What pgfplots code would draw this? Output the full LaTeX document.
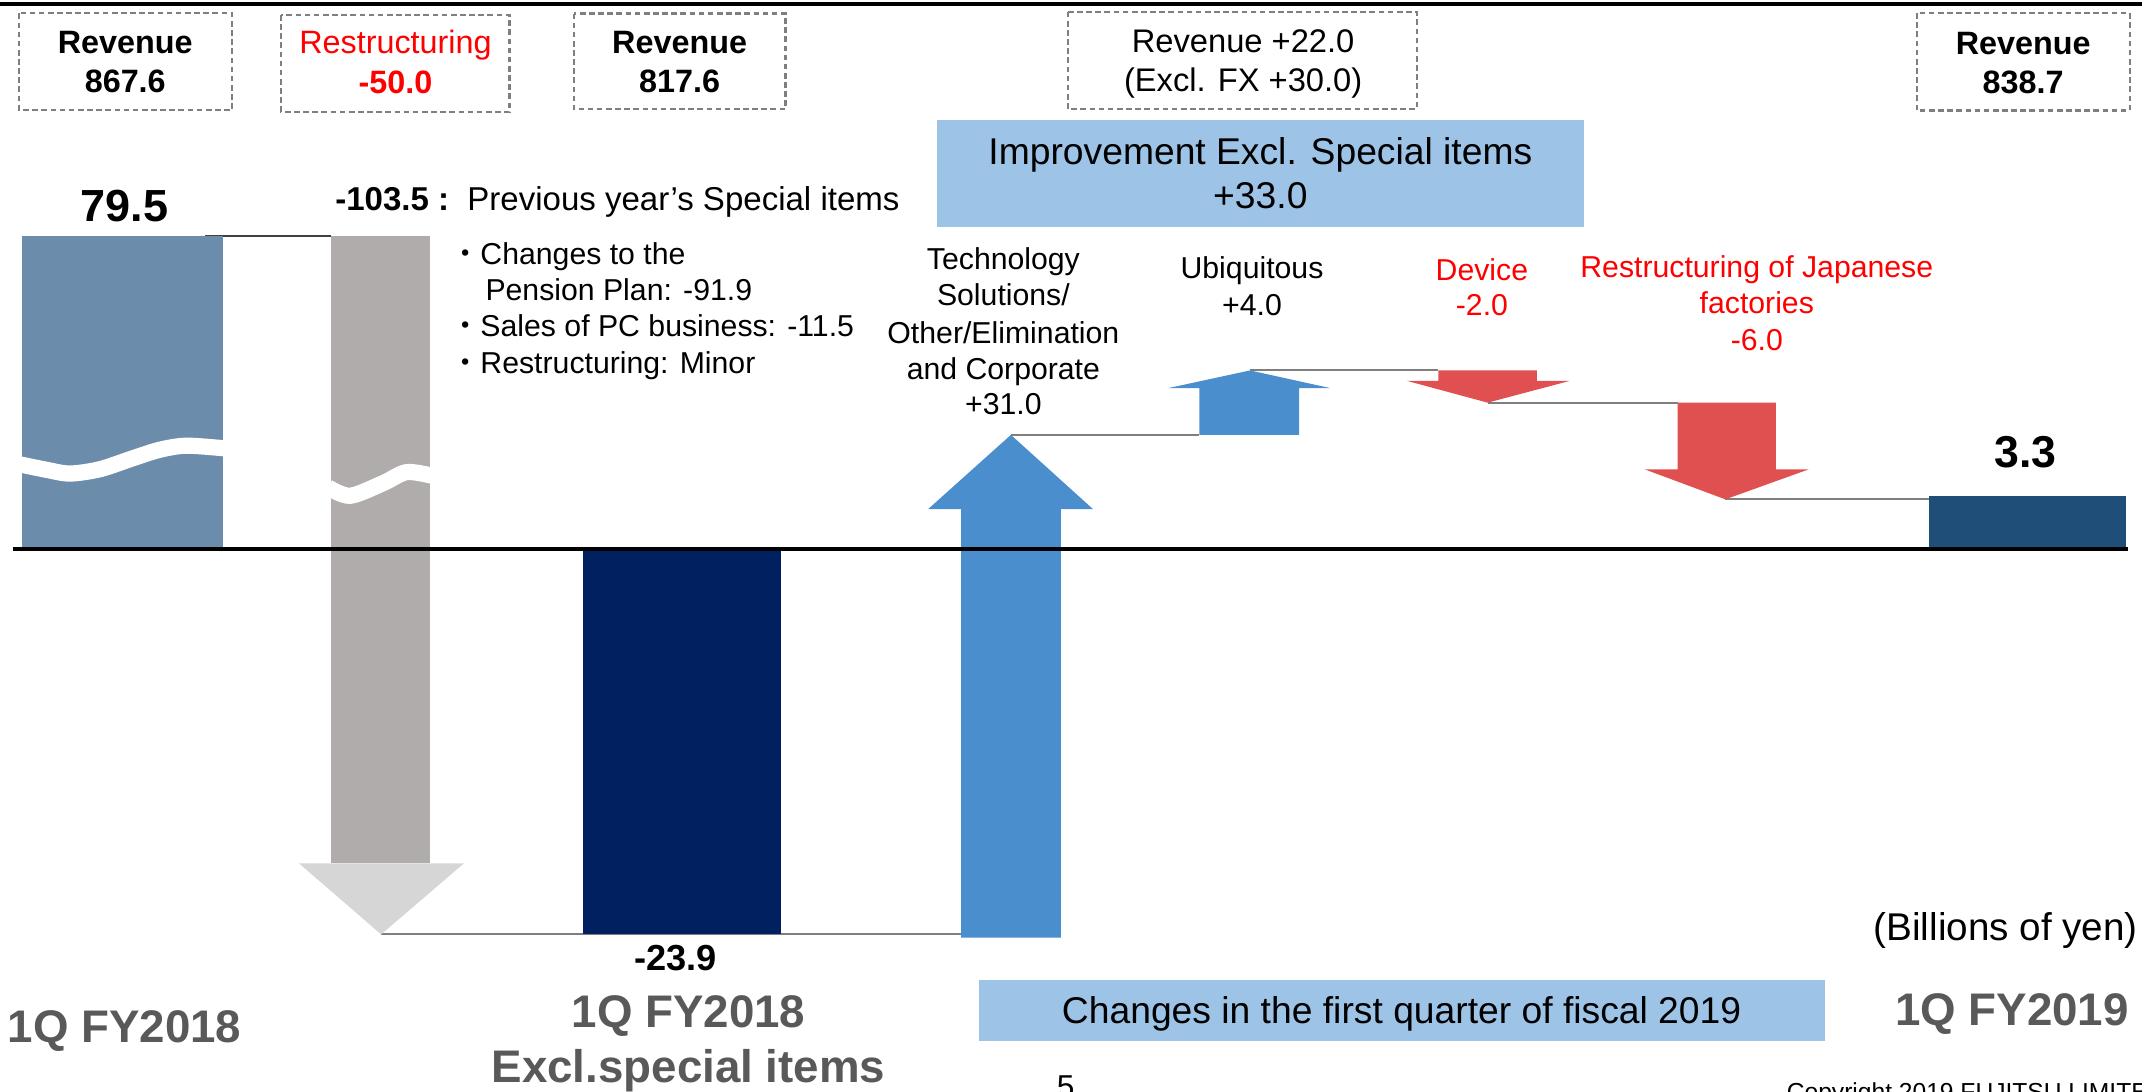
\documentclass[border=0pt]{standalone}
\usepackage{pgfplots}
\pgfplotsset{compat=1.18}
\usepackage{fontspec}
\setmainfont{Liberation Sans}
\newfontfamily\cjk{Noto Sans CJK JP}
\definecolor{barA}{HTML}{6B8CAA}
\definecolor{grayShaft}{HTML}{AFACAB}
\definecolor{grayHead}{HTML}{D6D6D6}
\definecolor{navy}{HTML}{002060}
\definecolor{arrowBlue}{HTML}{4A8ECE}
\definecolor{arrowRed}{HTML}{E15050}
\definecolor{finalBar}{HTML}{1F4E79}
\definecolor{lightBox}{HTML}{9DC3E6}
\definecolor{labelGray}{HTML}{595959}
\definecolor{dashGray}{HTML}{7F7F7F}
\definecolor{conn}{HTML}{7F7F7F}
\definecolor{txtRed}{HTML}{FF0000}
\newcommand{\fs}[1]{\fontsize{#1}{#1}\selectfont}
\begin{document}
\begin{tikzpicture}[every node/.style={inner sep=0pt, outer sep=0pt}]
\path[use as bounding box] (0,0) rectangle (21.42cm,10.91cm);
\begin{axis}[
  at={(0,0)}, anchor=south west,
  width=21.42cm, height=10.91cm, scale only axis,
  xmin=0, xmax=1568, ymin=-33.62, ymax=34.09,
  hide axis, clip=false,
]
% top rule
\draw[black, line width=1.1pt] (0,33.83) -- (1568,33.83);
% dashed boxes
\begin{scope}[dashGray, line width=0.6pt, dash pattern=on 1.6pt off 1pt]
\draw (14,33.26) rectangle (170,27.27);
\draw (206,33.16) rectangle (373,27.14);
\draw (420,33.25) rectangle (575,27.31);
\draw (782,33.36) rectangle (1037,27.31);
\draw (1403,33.27) rectangle (1559,27.23);
\end{scope}
% light blue boxes
\fill[lightBox] (685.6,26.63) rectangle (1159.6,19.98);
\fill[lightBox] (716.4,-26.71) rectangle (1336,-30.54);

% connectors
\addplot[color=black!75, line width=0.6pt] coordinates {(150,19.45) (242.5,19.45)};
\addplot[color=conn, line width=0.6pt] coordinates {(279,-23.9) (703.5,-23.9)};
\addplot[color=conn, line width=0.6pt] coordinates {(740,7.1) (878,7.1)};
\addplot[color=conn, line width=0.6pt] coordinates {(915,11.1) (1053,11.1)};
\addplot[color=conn, line width=0.6pt] coordinates {(1089,9.1) (1228,9.1)};
\addplot[color=conn, line width=0.6pt] coordinates {(1263,3.1) (1412,3.1)};

% 1Q FY2018 bar (79.5, axis broken)
\addplot[fill=barA, draw=none] coordinates {(16.4,0) (163.3,0) (163.3,19.45) (16.4,19.45)};
% special items -103.5
\addplot[fill=grayShaft, draw=none] coordinates {(242.5,19.45) (314.8,19.45) (314.8,-19.5) (242.5,-19.5)};
\addplot[fill=grayHead, draw=none] coordinates {(219,-19.5) (339.5,-19.5) (279,-23.9)};
% 1Q FY2018 excl special items -23.9
\addplot[fill=navy, draw=none] coordinates {(427,0) (572,0) (572,-23.9) (427,-23.9)};
% Technology Solutions +31.0
\addplot[fill=arrowBlue, draw=none] coordinates {(703.5,-24.1) (776.5,-24.1) (776.5,2.5) (800,2.5) (740,7.1) (679.5,2.5) (703.5,2.5)};
% Ubiquitous +4.0
\addplot[fill=arrowBlue, draw=none] coordinates {(878,7.1) (951,7.1) (951,10.0) (974,10.0) (915,11.1) (855,10.0) (878,10.0)};
% Device -2.0
\addplot[fill=arrowRed, draw=none] coordinates {(1053,11.1) (1125,11.1) (1125,10.45) (1149,10.45) (1089,9.1) (1030,10.45) (1053,10.45)};
% Restructuring -6.0
\addplot[fill=arrowRed, draw=none] coordinates {(1228,9.1) (1300,9.1) (1300,4.96) (1324,4.96) (1263,3.1) (1204,4.96) (1228,4.96)};
% 1Q FY2019 3.3
\addplot[fill=finalBar, draw=none] coordinates {(1412,0) (1556,0) (1556,3.3) (1412,3.3)};

% break waves
\addplot[white, line width=4.6pt, smooth] coordinates {(14,5.28) (34.2,4.93) (51.2,4.70) (73.2,4.97) (97.6,5.66) (117.1,6.18) (136.7,6.43) (166,6.25)};
\addplot[white, line width=4.6pt, smooth] coordinates {(240,3.85) (256.2,3.32) (280.6,4.11) (297.7,4.79) (317,4.55)};

% zero line
\addplot[black, line width=1.1pt] coordinates {(9.2,0) (1558,0)};

% box texts
\node[anchor=base] at (91.7,30.79) {\fs{9.2}\bfseries Revenue};
\node[anchor=base] at (91.7,28.35) {\fs{9.2}\bfseries 867.6};
\node[anchor=base, text=txtRed] at (289.5,30.75) {\fs{9.2}Restructuring};
\node[anchor=base, text=txtRed] at (289.5,28.31) {\fs{9.2}\bfseries -50.0};
\node[anchor=base] at (497.5,30.79) {\fs{9.2}\bfseries Revenue};
\node[anchor=base] at (497.5,28.35) {\fs{9.2}\bfseries 817.6};
\node[anchor=base] at (910,30.84) {\fs{9.3}Revenue +22.0};
\node[anchor=base] at (910,28.44) {\fs{9.3}(Excl. FX +30.0)};
\node[anchor=base] at (1481,30.73) {\fs{9.2}\bfseries Revenue};
\node[anchor=base] at (1481,28.29) {\fs{9.2}\bfseries 838.7};

\node[anchor=base] at (922.6,23.86) {\fs{10.6}Improvement Excl. Special items};
\node[anchor=base] at (922.6,21.13) {\fs{10.6}+33.0};

\node[anchor=base] at (91,20.34) {\fs{12.8}\bfseries 79.5};
\node[anchor=base west] at (245.5,21.03) {\fs{9.4}\textbf{-103.5 :}\hspace{0.55em}Previous year’s Special items};
\node[anchor=base west] at (329.6,17.65) {\fs{8.6}{\cjk ・}Changes to the};
\node[anchor=base west] at (355.4,15.42) {\fs{8.6}Pension Plan: -91.9};
\node[anchor=base west] at (329.6,13.2) {\fs{8.6}{\cjk ・}Sales of PC business: -11.5};
\node[anchor=base west] at (329.6,10.89) {\fs{8.6}{\cjk ・}Restructuring: Minor};

\node[anchor=base] at (734.5,17.34) {\fs{8.6}Technology};
\node[anchor=base] at (734.5,15.11) {\fs{8.6}Solutions/};
\node[anchor=base] at (734.5,12.8) {\fs{8.6}Other/Elimination};
\node[anchor=base] at (734.5,10.52) {\fs{8.6}and Corporate};
\node[anchor=base] at (734.5,8.35) {\fs{8.6}+31.0};

\node[anchor=base] at (916.5,16.8) {\fs{8.6}Ubiquitous};
\node[anchor=base] at (916.5,14.48) {\fs{8.6}+4.0};
\node[anchor=base, text=txtRed] at (1084.8,16.7) {\fs{8.6}Device};
\node[anchor=base, text=txtRed] at (1084.8,14.48) {\fs{8.6}-2.0};
\node[anchor=base, text=txtRed] at (1286,16.86) {\fs{8.6}Restructuring of Japanese};
\node[anchor=base, text=txtRed] at (1286,14.64) {\fs{8.6}factories};
\node[anchor=base, text=txtRed] at (1286,12.34) {\fs{8.6}-6.0};

\node[anchor=base] at (1482.5,5.07) {\fs{12.7}\bfseries 3.3};
\node[anchor=base] at (494.6,-26.12) {\fs{10.3}\bfseries -23.9};

\node[anchor=base, text=labelGray] at (91.1,-30.62) {\fs{13}\bfseries 1Q FY2018};
\node[anchor=base, text=labelGray] at (504,-29.67) {\fs{13}\bfseries 1Q FY2018};
\node[anchor=base, text=labelGray] at (504,-33.08) {\fs{13}\bfseries Excl.special items};
\node[anchor=base, text=labelGray] at (1472.7,-29.56) {\fs{13}\bfseries 1Q FY2019};

\node[anchor=base] at (1026,-29.41) {\fs{10.6}Changes in the first quarter of fiscal 2019};
\node[anchor=base west] at (1371.5,-24.29) {\fs{11}(Billions of yen)};
\node[anchor=base] at (780,-34.0) {\fs{9}5};
\node[anchor=base west] at (1308,-34.2) {\fs{7}Copyright 2019 FUJITSU LIMITED};
\end{axis}
\end{tikzpicture}
\end{document}
